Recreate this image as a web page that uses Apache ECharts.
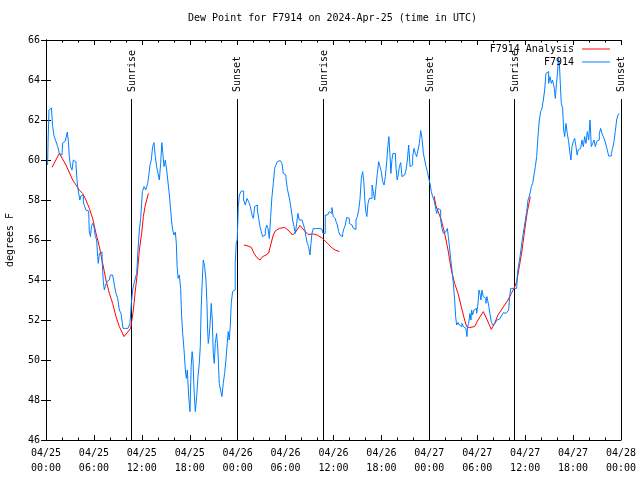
<!DOCTYPE html>
<html><head><meta charset="utf-8">
<script src="https://cdn.jsdelivr.net/npm/echarts@6/dist/echarts.min.js"></script>
<style>html,body{margin:0;padding:0;background:#fff}#c{width:640px;height:480px}</style>
</head><body><div id="c"></div>
<script>
// hours since 2024-04-25 00:00 UTC
const xTickLabels = ['04/25\n00:00','04/25\n06:00','04/25\n12:00','04/25\n18:00','04/26\n00:00','04/26\n06:00','04/26\n12:00','04/26\n18:00','04/27\n00:00','04/27\n06:00','04/27\n12:00','04/27\n18:00','04/28\n00:00'];
const sunEvents = [['Sunrise',10.67],['Sunset',23.9],['Sunrise',34.73],['Sunset',48.02],['Sunrise',58.64],['Sunset',71.98]];

const obsDay1 = [[0.2,59.75],[0.33,61.0],[0.42,62.5],[0.6,62.45],[0.75,62.6],[0.92,61.67],[1.13,61.17],[1.34,60.95],[1.59,60.67],[1.75,60.33],[2.0,60.25],[2.17,60.85],[2.42,60.95],[2.59,61.1],[2.75,61.4],[2.84,60.95],[3.0,60.17],[3.17,59.67],[3.34,59.5],[3.5,60.0],[3.67,59.9],[3.84,59.75],[3.92,59.0],[4.05,58.6],[4.17,58.7],[4.3,58.0],[4.42,58.2],[4.59,58.25],[4.76,57.9],[4.92,57.67],[5.09,57.5],[5.34,57.45],[5.51,56.4],[5.63,56.17],[5.76,56.67],[5.93,56.83],[6.09,56.67],[6.26,56.17],[6.43,56.0],[6.51,55.17],[6.59,54.83],[6.76,55.33],[6.93,55.4],[7.1,55.0],[7.26,53.92],[7.35,53.5],[7.51,53.67],[7.68,53.9],[7.93,54.0],[8.18,54.25],[8.51,54.3],[8.68,53.67],[8.85,53.33],[9.1,53.08],[9.27,52.5],[9.52,52.33],[9.77,51.58],[10.1,51.58],[10.43,51.58],[10.6,51.83],[10.77,52.83],[10.94,53.5],[11.1,53.83],[11.27,53.85],[11.44,54.33],[11.6,55.5],[11.77,56.5],[11.94,57.08],[12.19,58.42],[12.36,58.67],[12.61,58.5],[12.86,58.83],[12.94,59.33],[13.1,59.75],[13.27,60.0],[13.44,60.67],[13.6,60.87],[13.77,60.17],[13.94,59.67],[14.11,59.33],[14.27,59.0],[14.44,59.83],[14.57,60.87],[14.69,60.33],[14.86,59.67],[15.03,60.0],[15.19,59.5],[15.36,58.9],[15.53,58.25],[15.69,57.5],[15.78,56.9],[15.94,56.5],[16.11,56.25],[16.28,56.4],[16.36,55.83],[16.48,54.67],[16.61,54.08],[16.78,54.25],[16.94,53.58],[17.03,52.17],[17.2,51.33],[17.37,50.5],[17.53,49.5],[17.61,49.08],[17.78,49.5],[17.95,48.17],[18.11,47.42],[18.24,49.67],[18.36,50.42],[18.45,50.0],[18.61,48.58],[18.78,47.42],[18.95,48.17],[19.11,49.17],[19.28,49.83],[19.36,50.67],[19.49,52.5],[19.61,53.83],[19.78,55.0],[19.95,54.67],[20.11,54.0],[20.2,52.83],[20.28,51.5],[20.36,50.83],[20.49,51.17],[20.61,51.83],[20.78,52.83],[20.86,52.0],[21.03,50.33],[21.11,49.83],[21.28,50.83],[21.44,51.33],[21.61,50.5],[21.78,48.83],[21.94,48.5],[22.11,48.17],[22.28,48.83],[22.45,49.33],[22.61,50.0],[22.78,50.83],[22.86,51.42],[23.03,51.0],[23.11,51.67],[23.28,52.83],[23.45,53.42],[23.61,53.5],[23.78,54.83],[23.86,55.83],[24.03,56.0]];
const obsDay2 = [[24.13,57.67],[24.29,58.25],[24.62,58.45],[24.87,58.0],[25.04,57.75],[25.29,58.08],[25.46,57.92],[25.71,57.67],[25.88,57.25],[26.05,57.08],[26.21,57.67],[26.38,57.75],[26.55,57.5],[26.71,57.08],[26.88,56.67],[27.05,56.42],[27.21,56.17],[27.38,56.25],[27.55,56.5],[27.71,56.75],[27.88,56.58],[28.05,56.08],[28.21,57.17],[28.38,58.17],[28.55,58.83],[28.71,59.58],[28.88,59.75],[29.05,59.92],[29.21,59.97],[29.46,60.0],[29.63,59.83],[29.8,59.33],[29.97,59.25],[30.13,59.08],[30.3,58.58],[30.47,58.25],[30.63,57.92],[30.8,57.5],[30.97,57.0],[31.14,56.67],[31.3,56.33],[31.47,56.83],[31.63,57.33],[31.8,57.0],[32.3,57.0],[32.46,56.58],[32.63,56.17],[32.8,55.83],[32.97,55.67],[33.14,55.25],[33.22,55.83],[33.38,56.33],[33.55,56.57],[34.21,56.58],[34.55,56.55],[34.8,56.33],[35.13,57.25],[35.38,57.25],[35.55,57.42],[35.71,57.33],[35.88,57.62],[36.05,57.17],[36.23,57.08],[36.4,56.92],[36.56,56.75],[36.73,56.42],[36.9,56.25],[37.06,56.17],[37.23,56.33],[37.4,56.58],[37.57,56.75],[37.73,57.13],[37.9,57.08],[38.07,56.83],[38.23,56.8],[38.4,56.75],[38.57,56.58],[38.73,56.53],[38.9,57.0],[39.07,57.17],[39.23,57.5],[39.4,58.03],[39.57,59.08],[39.73,59.42],[39.86,58.92],[39.98,58.0],[40.11,57.42],[40.24,57.17],[40.4,57.83],[40.57,58.08],[40.74,58.08],[40.91,58.75],[41.07,58.42],[41.24,58.0],[41.41,58.67],[41.57,59.33],[41.74,59.92],[41.91,59.67],[42.07,59.42],[42.24,58.92],[42.41,58.75],[42.58,59.17],[42.74,59.92],[42.87,60.67],[43.0,61.17],[43.12,60.33],[43.25,59.33],[43.38,60.0],[43.5,60.33],[43.75,60.33],[43.91,59.58],[44.04,59.0],[44.16,59.25],[44.33,59.67],[44.5,59.87],[44.66,59.17],[44.83,59.25],[45.0,59.33],[45.17,59.5],[45.33,60.0],[45.5,60.75],[45.67,59.67],[45.83,59.75],[46.0,60.17],[46.17,60.58],[46.33,60.33],[46.5,60.17],[46.67,60.5],[46.83,60.83],[47.0,61.47],[47.17,61.08],[47.34,60.33],[47.5,60.0],[47.67,59.67],[47.84,59.42],[48.0,59.08]];
const obsDay3 = [[48.17,58.83],[48.33,58.42],[48.5,58.17],[48.67,58.0],[48.84,57.67],[49.0,57.33],[49.17,57.58],[49.34,57.5],[49.5,57.0],[49.67,56.58],[49.84,56.33],[50.0,56.42],[50.17,56.5],[50.34,56.58],[50.42,56.17],[50.58,55.75],[50.75,55.08],[50.92,54.5],[51.09,53.83],[51.25,53.0],[51.34,52.17],[51.5,51.75],[51.67,51.87],[51.84,51.75],[52.0,51.67],[52.17,51.83],[52.34,51.67],[52.5,51.58],[52.67,51.5],[52.75,51.17],[52.84,51.67],[53.0,51.83],[53.17,52.33],[53.25,52.0],[53.34,52.5],[53.5,52.25],[53.67,52.5],[53.84,52.58],[54.0,52.33],[54.09,52.67],[54.17,53.0],[54.25,53.5],[54.42,53.33],[54.5,53.0],[54.67,53.5],[54.84,53.17],[55.0,53.08],[55.17,52.83],[55.25,53.17],[55.42,53.08],[55.5,52.67],[55.67,52.33],[55.84,51.92],[56.0,51.75],[56.17,51.83],[56.34,51.92],[56.5,52.0],[56.76,52.03],[57.01,52.08],[57.18,52.25],[57.35,52.37],[57.6,52.33],[57.85,52.33],[58.02,52.5],[58.1,53.17],[58.27,53.58],[58.94,53.58],[59.11,54.33],[59.27,54.75],[59.44,55.17],[59.61,55.67],[59.77,56.17],[59.94,56.58],[60.11,57.0],[60.27,57.42],[60.44,58.0],[60.69,58.25],[60.86,58.67],[61.02,58.83],[61.19,59.25],[61.36,59.67],[61.52,60.17],[61.69,61.17],[61.86,62.0],[62.02,62.42],[62.19,62.58],[62.36,63.0],[62.52,63.5],[62.69,64.33],[62.86,64.42],[63.02,63.83],[63.19,64.17],[63.36,63.83],[63.48,64.0],[63.61,64.08],[63.69,63.58],[63.86,63.08],[63.98,63.83],[64.11,64.33],[64.23,65.08],[64.36,64.75],[64.44,63.83],[64.61,62.83],[64.78,62.58],[64.86,61.5],[65.03,61.17],[65.19,61.83],[65.36,61.33],[65.53,60.92],[65.69,60.33],[65.78,60.0],[65.94,60.67],[66.11,60.92],[66.28,61.08],[66.45,60.67],[66.57,60.25],[66.7,60.5],[66.87,60.58],[67.03,60.67],[67.2,61.0],[67.37,60.67],[67.53,61.17],[67.7,60.83],[67.87,61.42],[68.04,61.0],[68.2,62.0],[68.37,60.67],[68.54,60.83],[68.7,61.0],[68.87,60.67],[69.04,60.92],[69.2,61.0],[69.37,61.33],[69.54,61.58],[69.7,61.33],[69.87,61.17],[70.04,61.0],[70.2,60.75],[70.37,60.5],[70.54,60.2],[70.71,60.2],[70.87,60.33],[71.04,60.58],[71.2,60.92],[71.37,61.42],[71.54,62.0],[71.7,62.25],[71.87,62.33]];

const anaSeg1 = [[0.75,59.63],[1.67,60.33],[2.5,59.75],[3.34,59.0],[4.17,58.5],[4.59,58.33],[5.0,58.0],[5.43,57.58],[5.84,57.08],[6.26,56.33],[6.68,55.67],[7.1,54.83],[7.51,54.0],[7.93,53.33],[8.35,52.83],[8.76,52.17],[9.18,51.67],[9.77,51.17],[10.6,51.58],[10.94,52.5],[11.19,53.5],[11.44,54.33],[11.69,55.5],[11.98,56.33],[12.19,57.17],[12.4,57.67],[12.82,58.33]];
const anaSeg2 = [[24.79,55.75],[25.29,55.7],[25.71,55.63],[26.05,55.33],[26.38,55.13],[26.8,55.0],[27.13,55.17],[27.55,55.25],[27.88,55.35],[28.13,55.75],[28.46,56.25],[28.71,56.45],[29.21,56.58],[29.88,56.63],[30.3,56.5],[30.88,56.25],[31.3,56.42],[31.8,56.73],[32.3,56.5],[32.8,56.28],[33.47,56.3],[33.97,56.25],[34.63,56.08],[35.05,55.92],[35.46,55.75],[35.88,55.58],[36.21,55.5],[36.73,55.42]];
const anaSeg3 = [[48.6,58.2],[48.84,57.7],[49.5,57.0],[49.92,56.33],[50.34,55.5],[50.75,54.5],[51.17,53.83],[51.59,53.33],[52.0,52.67],[52.42,52.0],[52.67,51.67],[53.0,51.62],[53.67,51.67],[54.09,52.0],[54.76,52.42],[55.25,52.0],[55.76,51.53],[56.17,51.83],[56.59,52.25],[57.01,52.5],[57.43,52.75],[57.85,53.0],[58.27,53.33],[58.6,53.58],[58.94,53.92],[59.27,54.67],[59.61,55.5],[59.94,56.5],[60.27,57.42],[60.65,58.17]];

const FONT = 'DejaVu Sans Mono';
const txt = {color:'#000', fontFamily: FONT, fontSize: 10};
const chart = echarts.init(document.getElementById('c'), null, {renderer:'canvas'});

const baseX = {
  type:'value', min:0, max:72, interval:6,
  axisLine:{show:true, lineStyle:{color:'#000', width:1}},
  axisTick:{show:true, inside:true, length:5, lineStyle:{color:'#000'}},
  minorTick:{show:true, splitNumber:3, length:2.5, lineStyle:{color:'#000'}},
  splitLine:{show:false}, minorSplitLine:{show:false}
};
const baseY = {
  type:'value', min:46, max:66, interval:2,
  axisLine:{show:true, lineStyle:{color:'#000', width:1}},
  axisTick:{show:true, inside:true, length:5, lineStyle:{color:'#000'}},
  splitLine:{show:false}
};

const option = {
  animation:false,
  backgroundColor:'#fff',
  title:{text:'Dew Point for F7914 on 2024-Apr-25 (time in UTC)', left:188, top:13, padding:0,
    textStyle:{...txt, fontWeight:'normal'}},
  grid:{left:46, right:19, top:40, bottom:40, containLabel:false, outerBoundsMode:'none'},
  legend:[
    {data:['F7914 Analysis'], right:30, top:44, padding:0, align:'right', icon:'rect', itemWidth:28, itemHeight:1, selectedMode:false, textStyle:{...txt, padding:[0,3,0,0]}},
    {data:['F7914'], right:30, top:57, padding:0, align:'right', icon:'rect', itemWidth:28, itemHeight:1, selectedMode:false, textStyle:{...txt, padding:[0,3,0,0]}}
  ],
  xAxis:[
    {...baseX, position:'bottom', axisLabel:{...txt, lineHeight:15, margin:6, formatter:(v)=>xTickLabels[Math.round(v/6)]}},
    {...baseX, position:'top', axisLabel:{show:false}}
  ],
  yAxis:[
    {...baseY, position:'left', axisLabel:{...txt, margin:6},
      name:'degrees F', nameLocation:'middle', nameGap:31, nameRotate:90, nameTextStyle:{...txt}},
    {...baseY, position:'right', axisLabel:{show:false}}
  ],
  series:[
    {name:'F7914 Analysis', type:'line', xAxisIndex:0, yAxisIndex:0, showSymbol:false, symbol:'none',
      connectNulls:false, color:'#ff0000', lineStyle:{width:1, color:'#ff0000'},
      data:[...anaSeg1, [null,null], ...anaSeg2, [null,null], ...anaSeg3]},
    {name:'F7914', type:'line', xAxisIndex:0, yAxisIndex:0, showSymbol:false, symbol:'none', step:'middle',
      color:'#0080ff', lineStyle:{width:1, color:'#0080ff'},
      data:[...obsDay1, ...obsDay2, ...obsDay3]},
    {type:'custom', xAxisIndex:0, yAxisIndex:0, clip:false, silent:true,
      encode:{x:0, y:1},
      data: sunEvents.map(e=>[e[1], 63]),
      renderItem:(params, api)=>{
        const h = api.value(0);
        const p0 = api.coord([h, 46]);
        const p1 = api.coord([h, 63.05]);
        const pt = api.coord([h, 63.4]);
        const xx = Math.round(p0[0]) + 0.5;
        return {type:'group', children:[
          {type:'line', shape:{x1:xx, y1:p0[1], x2:xx, y2:p1[1]}, style:{stroke:'#000', lineWidth:1}},
          {type:'text', x:pt[0]+1, y:pt[1], rotation:Math.PI/2,
            style:{text:sunEvents[params.dataIndex][0], font:'10px "DejaVu Sans Mono"', fill:'#000', align:'left', verticalAlign:'middle'}}
        ]};
      }}
  ]
};
chart.setOption(option);
</script></body></html>
